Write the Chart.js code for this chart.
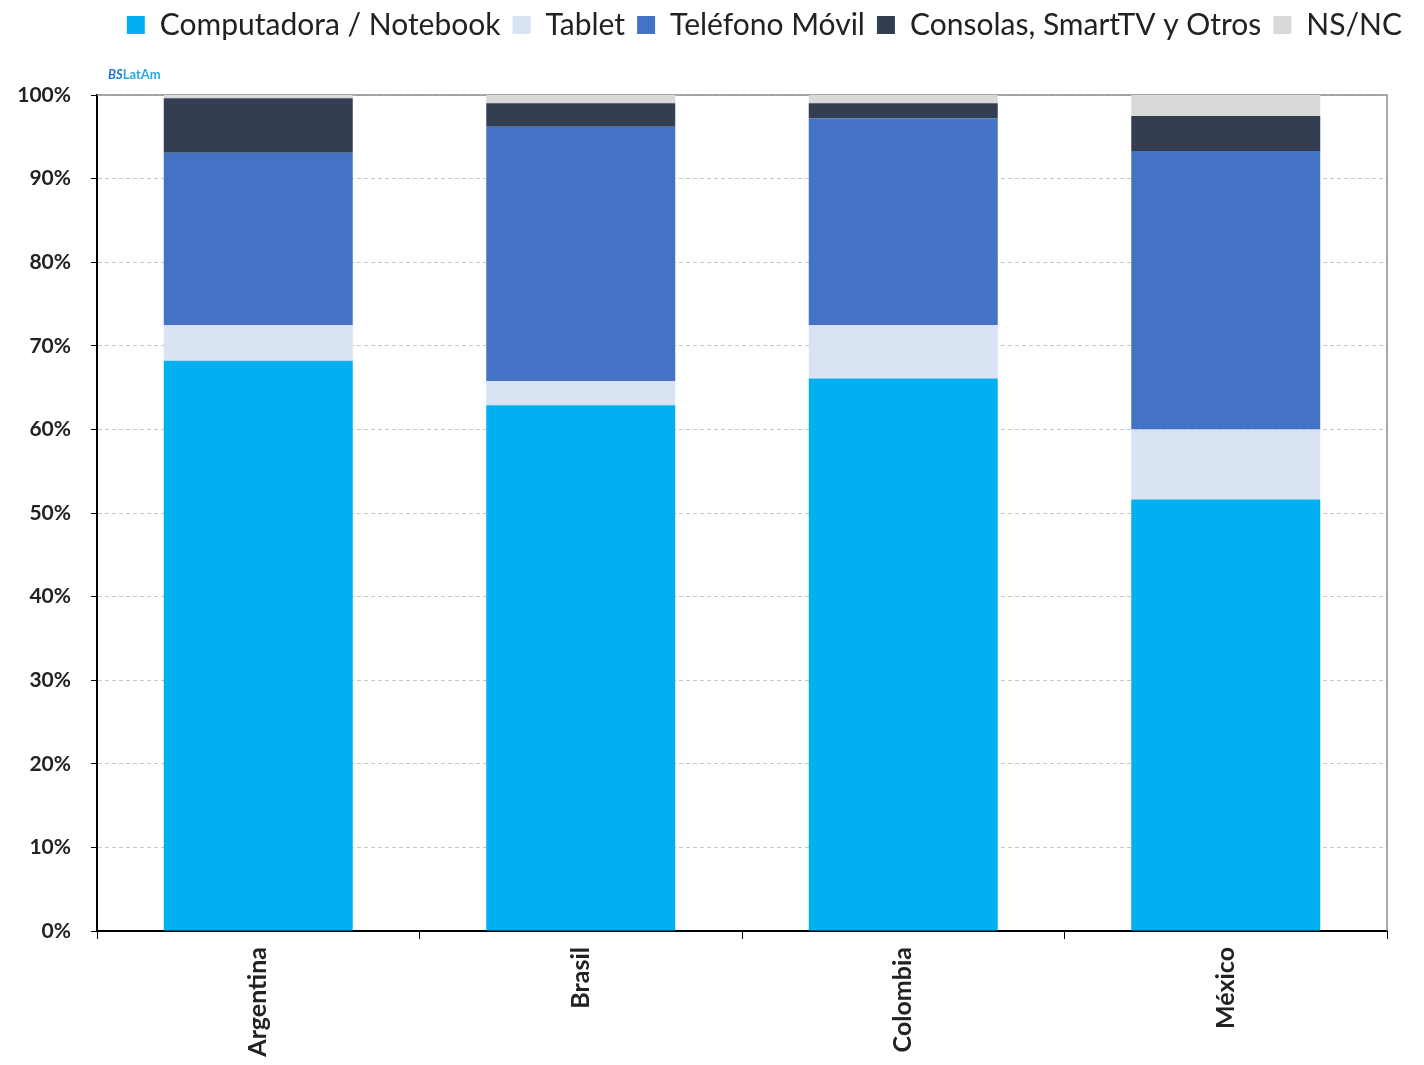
<!DOCTYPE html>
<html>
<head>
<meta charset="utf-8">
<script src="https://cdn.jsdelivr.net/npm/chart.js@4.4.1/dist/chart.umd.min.js"></script>
<style>
  html, body { margin: 0; padding: 0; background: #fff; }
  #wrap { width: 1424px; height: 1065px; position: relative; }
</style>
</head>
<body>
<div id="wrap"><canvas id="chart"></canvas></div>
<script>
// Device used per country (stacked to 100%)
const countries = ['Argentina', 'Brasil', 'Colombia', 'México'];
const computadora = [68.2, 62.9, 66.1, 51.6];
const tablet = [4.3, 2.9, 6.4, 8.4];
const movil = [20.6, 30.4, 24.7, 33.3];
const consolas = [6.5, 2.8, 1.8, 4.2];
const nsnc = [0.4, 1.0, 1.0, 2.5];
const yTicks = [0, 10, 20, 30, 40, 50, 60, 70, 80, 90, 100];

const FONT = 'Lato, "Open Sans", sans-serif';

// grey frame on top / right + watermark
const framePlugin = {
  id: 'frame',
  beforeDatasetsDraw(chart) {
    const { ctx, chartArea: a } = chart;
    ctx.save();
    ctx.strokeStyle = '#8c8c8c';
    ctx.lineWidth = 1.5;
    ctx.beginPath();
    ctx.moveTo(a.left, a.top);
    ctx.lineTo(a.right, a.top);
    ctx.lineTo(a.right, a.bottom);
    ctx.stroke();
    ctx.restore();
  },
  afterDraw(chart) {
    const { ctx, chartArea: a } = chart;
    ctx.save();
    ctx.textBaseline = 'alphabetic';
    ctx.font = 'italic bold 13px ' + FONT;
    ctx.fillStyle = '#1f78d1';
    ctx.fillText('BS', a.left + 11, a.top - 16);
    const w = ctx.measureText('BS').width;
    ctx.font = 'bold 13px ' + FONT;
    ctx.fillStyle = '#2aa8e0';
    ctx.fillText('LatAm', a.left + 11 + w, a.top - 16);
    ctx.restore();
  }
};

// fix legend height so plot top lands where it should
const legendHeight = {
  id: 'legendHeight',
  beforeInit(chart) {
    const fit = chart.legend.fit;
    chart.legend.fit = function () {
      fit.bind(chart.legend)();
      this.height = 97;
    };
  }
};

new Chart(document.getElementById('chart'), {
  type: 'bar',
  data: {
    labels: countries,
    datasets: [
      { label: 'Computadora / Notebook', data: computadora, backgroundColor: '#00B0F0' },
      { label: 'Tablet', data: tablet, backgroundColor: '#DAE3F3' },
      { label: 'Teléfono Móvil', data: movil, backgroundColor: '#4472C4' },
      { label: 'Consolas, SmartTV y Otros', data: consolas, backgroundColor: '#333F50' },
      { label: 'NS/NC', data: nsnc, backgroundColor: '#D9D9D9' }
    ]
  },
  options: {
    responsive: true,
    maintainAspectRatio: false,
    animation: false,
    layout: { padding: { left: 0, right: 10, top: -2, bottom: 0 } },
    datasets: { bar: { categoryPercentage: 1, barPercentage: 0.586, borderWidth: 0 } },
    plugins: {
      legend: {
        position: 'top',
        align: 'end',
        labels: {
          boxWidth: 18,
          boxHeight: 18,
          padding: 12,
          color: '#222',
          font: { family: FONT, size: 30 }
        }
      },
      tooltip: { enabled: false }
    },
    scales: {
      x: {
        stacked: true,
        grid: { drawOnChartArea: false, drawTicks: true, tickLength: 8, color: '#000', tickColor: '#000' },
        border: { color: '#000', width: 2 },
        ticks: {
          minRotation: 90, maxRotation: 90, padding: 8,
          color: '#222',
          font: { family: FONT, size: 25, weight: 'bold' }
        },
        afterFit(scale) { scale.height = 134; }
      },
      y: {
        stacked: true,
        min: 0,
        max: 100,
        afterBuildTicks(scale) { scale.ticks = yTicks.map(v => ({ value: v })); },
        grid: {
          color: '#c8c8c8',
          lineWidth: 1,
          tickLength: 6,
          tickColor: '#000',
          tickBorderDash: []
        },
        border: { color: '#000', width: 2, dash: [4, 3] },
        ticks: {
          padding: 20,
          color: '#222',
          font: { family: FONT, size: 21, weight: 'bold' },
          callback: v => v + '%'
        },
        afterFit(scale) { scale.width = 97; }
      },
      // empty right-side spacer so the plot ends before the legend does
      yRight: {
        position: 'right',
        display: true,
        grid: { display: false },
        border: { display: false },
        ticks: { display: false },
        afterFit(scale) { scale.width = 27; }
      }
    }
  },
  plugins: [framePlugin, legendHeight]
});
</script>
</body>
</html>
